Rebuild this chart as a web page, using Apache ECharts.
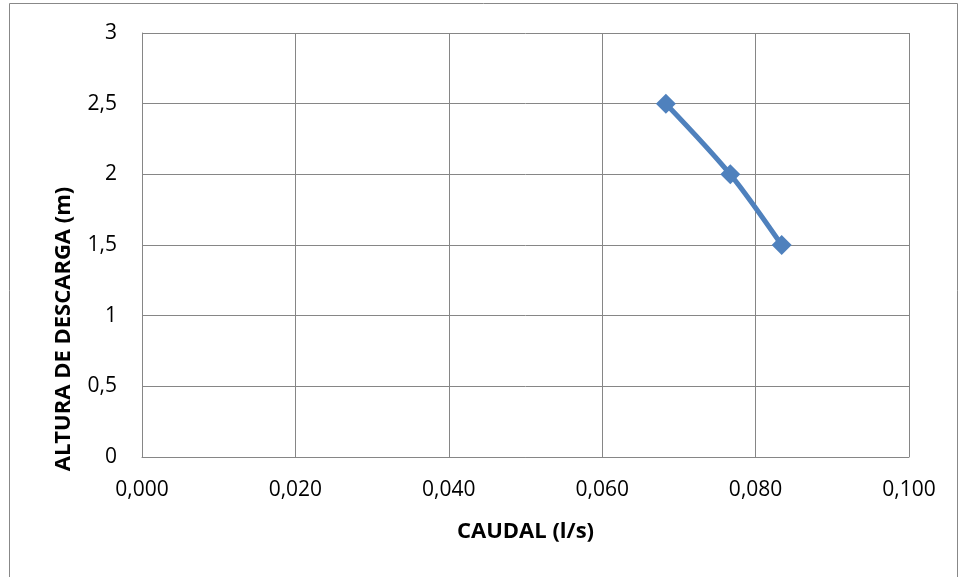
<!DOCTYPE html>
<html>
<head>
<meta charset="utf-8">
<script src="https://cdn.jsdelivr.net/npm/echarts@6/dist/echarts.min.js"></script>
<style>
  html, body { margin: 0; padding: 0; background: #fff; }
  #chart { width: 960px; height: 577px; }
</style>
</head>
<body>
<div id="chart"></div>
<script>
// caudal (l/s) vs altura de descarga (m)
const caudal = [0.0683, 0.0767, 0.0834];
const altura = [2.5, 2.0, 1.5];

const fmt = (v, d) => v.toFixed(d).replace('.', ',');
const font = '"Open Sans", "Noto Sans", sans-serif';

const chart = echarts.init(document.getElementById('chart'));
chart.setOption({
  backgroundColor: '#fff',
  animation: false,
  graphic: [
    {
      type: 'polyline',
      shape: { points: [[9.5, 577], [9.5, 3.5], [957.5, 3.5], [957.5, 577]] },
      style: { stroke: '#888', lineWidth: 1, fill: null }
    },
    {
      // y axis title sits lower than the plot centre, as in the original
      type: 'text',
      x: 64,
      y: 329,
      rotation: Math.PI / 2,
      style: {
        text: 'ALTURA DE DESCARGA (m)',
        font: 'bold 22px ' + font,
        fill: '#000',
        align: 'center',
        verticalAlign: 'middle'
      }
    }
  ],
  grid: { left: 142, right: 51, top: 33, bottom: 120 },
  xAxis: {
    type: 'value',
    min: 0,
    max: 0.1,
    interval: 0.02,
    name: 'CAUDAL (l/s)',
    nameLocation: 'middle',
    nameGap: 64,
    nameTextStyle: { fontFamily: font, fontSize: 22, fontWeight: 'bold', color: '#000' },
    axisLine: { show: true, lineStyle: { color: '#868686' } },
    axisTick: { show: false },
    axisLabel: {
      fontFamily: font, fontSize: 21, color: '#000', margin: 23,
      formatter: v => fmt(v, 3)
    },
    splitLine: { show: true, lineStyle: { color: '#868686', width: 1 } }
  },
  yAxis: {
    type: 'value',
    min: 0,
    max: 3,
    interval: 0.5,
    axisLine: { show: true, lineStyle: { color: '#868686' } },
    axisTick: { show: false },
    axisLabel: {
      fontFamily: font, fontSize: 21, color: '#000', margin: 25,
      formatter: v => (Number.isInteger(v) ? String(v) : fmt(v, 1))
    },
    splitLine: { show: true, lineStyle: { color: '#868686', width: 1 } }
  },
  series: [
    {
      type: 'line',
      data: caudal.map((x, i) => [x, altura[i]]),
      smooth: 0.3,
      symbol: 'diamond',
      symbolSize: 20,
      lineStyle: { color: '#4f81bd', width: 5 },
      itemStyle: { color: '#4f81bd' }
    }
  ]
});
</script>
</body>
</html>
